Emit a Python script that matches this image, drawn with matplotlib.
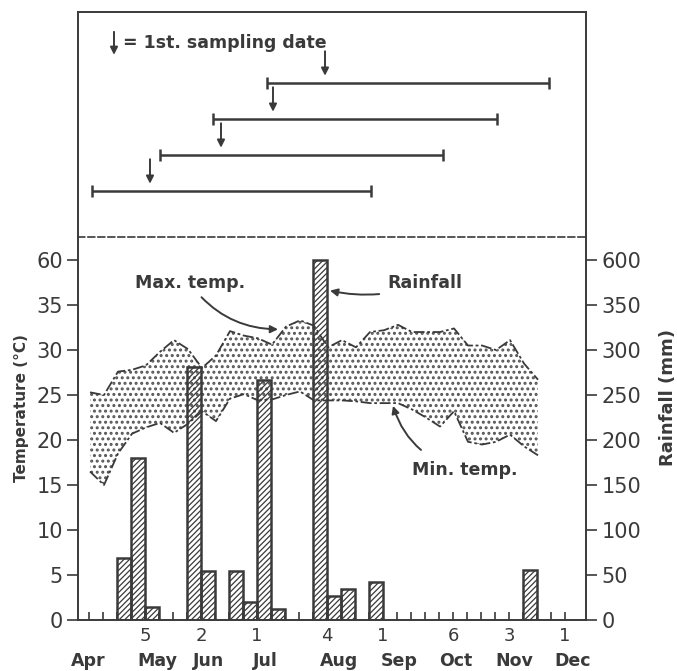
import matplotlib.pyplot as plt
import numpy as np

plt.rcParams['font.family'] = 'DejaVu Sans'
plt.rcParams['hatch.linewidth'] = 0.9
ink = '#3a3a3a'

# x axis = days counted from 31 March (1 April = day 1)
week_x = np.arange(33) * 7 + 7.5
t_max = [25.3, 25.0, 27.6, 27.8, 28.3, 29.8, 31.1, 30.1, 28.0, 29.4, 32.1, 31.6,
         31.3, 30.6, 32.6, 33.3, 32.7, 30.3, 31.1, 30.3, 32.0, 32.2, 32.8, 32.0,
         32.0, 32.0, 32.4, 30.5, 30.5, 30.0, 31.1, 28.5, 26.7]
t_min = [16.5, 15.0, 18.5, 20.7, 21.4, 21.9, 20.8, 21.8, 23.2, 22.1, 24.6, 25.1,
         24.4, 24.5, 25.0, 25.4, 24.4, 24.4, 24.4, 24.3, 24.1, 24.1, 24.1, 23.4,
         22.5, 21.5, 23.2, 19.8, 19.5, 19.8, 20.6, 19.3, 18.3]

# weekly rainfall (week start day, mm)
rain_week = [21, 28, 35, 56, 63, 77, 84, 91, 98, 119, 126, 133, 147, 224]
rain_mm = [69, 180, 14, 281, 55, 54, 20, 267, 12, 600, 27, 34, 42, 56]

tick_days = [35, 63, 91, 126, 154, 189, 217, 245]
tick_nums = ['5', '2', '1', '4', '1', '6', '3', '1']
months = ['Apr', 'May', 'Jun', 'Jul', 'Aug', 'Sep', 'Oct', 'Nov', 'Dec']
month_pos = [6.5, 41, 67, 95, 132, 162, 190.5, 219.5, 249]

temp_ticks = [0, 5, 10, 15, 20, 25, 30, 35, 60]
rain_ticks = [0, 50, 100, 150, 200, 250, 300, 350, 600]

# sampling periods (start, first sampling, end)
samp_start = [8.5, 42.5, 69, 96]
samp_first = [37.5, 73, 99, 125]
samp_end = [148, 184, 211, 237]


def broken(v, cut, top, step):
    # axis is broken above `cut`: the top tick sits one step above it
    v = np.asarray(v, float)
    return np.where(v <= cut, v, cut + (v - cut) / (top - cut) * step)


fig = plt.figure(figsize=(6.77, 6.71), dpi=100)
ax = fig.add_axes([0.1152, 0.076, 0.7504, 0.5708])
top = fig.add_axes([0.1152, 0.6468, 0.7504, 0.3353])

xlim = (1.5, 255.5)

# ---- lower panel
with plt.rc_context({'hatch.linewidth': 1.4}):
    ax.fill_between(week_x, t_min, t_max, facecolor='white', edgecolor='#555555',
                    hatch='...', linewidth=0, zorder=1)
ax.plot(week_x, t_max, color=ink, lw=1.3, ls=(0, (6, 1.5, 1.5, 1.5)), zorder=2)
ax.plot(week_x, t_min, color=ink, lw=1.3, ls=(0, (6, 1.5, 1.5, 1.5)), zorder=2)

rain_h = broken(np.array(rain_mm) / 10, 35, 60, 5)
ax.bar(rain_week, rain_h, width=7, align='edge', facecolor='none',
       edgecolor=ink, hatch='//////', linewidth=1.8, zorder=3)

ax.set_xlim(*xlim)
ax.set_ylim(0, 42.56)
ax.spines['top'].set_visible(False)
for s in ['left', 'right', 'bottom']:
    ax.spines[s].set_linewidth(1.4)
    ax.spines[s].set_color(ink)

ax.set_xticks(np.arange(7, 246, 7))
ax.tick_params(axis='x', direction='in', length=6, width=1.2, color=ink,
               labelbottom=False)
for d, n in zip(tick_days, tick_nums):
    ax.text(d, -1.8, n, ha='center', va='center', fontsize=13, color=ink)
for d, m in zip(month_pos, months):
    ax.text(d, -4.5, m, ha='center', va='center', fontsize=12.5, color=ink,
            fontweight='bold')

ypos = broken(temp_ticks, 35, 60, 5)
ax.set_yticks(ypos)
ax.set_yticklabels([str(t) for t in temp_ticks])
ax.tick_params(axis='y', direction='out', length=8, width=1.2, color=ink,
               labelsize=15, labelcolor=ink, pad=3)
ax2 = ax.twinx()
ax2.set_ylim(ax.get_ylim())
ax2.set_yticks(broken(np.array(rain_ticks) / 10, 35, 60, 5))
ax2.set_yticklabels([str(t) for t in rain_ticks])
ax2.tick_params(axis='y', direction='out', length=8, width=1.2, color=ink,
                labelsize=15, labelcolor=ink, pad=3)
for s in ax2.spines.values():
    s.set_visible(False)

fig.text(22 / 677, 1 - 408 / 671, 'Temperature (°C)', rotation=90,
         ha='center', va='center', fontsize=11, color=ink, fontweight='bold')
fig.text(668 / 677, 1 - 397 / 671, 'Rainfall (mm)', rotation=90,
         ha='center', va='center', fontsize=13, color=ink, fontweight='bold')

arr = dict(arrowstyle='-|>', color=ink, lw=1.4, mutation_scale=11)
ax.annotate('Max. temp.', xy=(101.5, 32.3), xytext=(57.5, 37.4),
            ha='center', va='center', fontsize=12.5, color=ink, fontweight='bold',
            arrowprops=dict(arr, connectionstyle='arc3,rad=0.25',
                            shrinkA=2, shrinkB=0))
ax.annotate('Rainfall', xy=(127.5, 36.6), xytext=(175, 37.4),
            ha='center', va='center', fontsize=12.5, color=ink, fontweight='bold',
            arrowprops=dict(arr, connectionstyle='arc3,rad=-0.15',
                            shrinkA=4, shrinkB=0))
ax.annotate('Min. temp.', xy=(159, 23.8), xytext=(195, 16.7),
            ha='center', va='center', fontsize=12.5, color=ink, fontweight='bold',
            arrowprops=dict(arr, connectionstyle='arc3,rad=-0.3',
                            shrinkA=10, shrinkB=0))

# ---- upper panel: sampling periods
top.set_xlim(*xlim)
top.set_ylim(-0.28, 5.97)
top.set_xticks([])
top.set_yticks([])
for s in ['left', 'right', 'top']:
    top.spines[s].set_linewidth(1.4)
    top.spines[s].set_color(ink)
top.spines['bottom'].set_linestyle((0, (4, 2)))
top.spines['bottom'].set_linewidth(1.2)
top.spines['bottom'].set_color(ink)

for i, (a, f, b) in enumerate(zip(samp_start, samp_first, samp_end)):
    row = i + 1
    top.plot([a, b], [row, row], color=ink, lw=1.8, solid_capstyle='butt')
    top.plot([a, b], [row, row], ls='none', marker='|', ms=9, mew=1.8,
             color=ink)
    top.annotate('', xy=(f, row + 0.2), xytext=(f, row + 0.88),
                 arrowprops=dict(arr, shrinkA=0, shrinkB=0))

top.annotate('', xy=(19.5, 4.78), xytext=(19.5, 5.42),
             arrowprops=dict(arr, shrinkA=0, shrinkB=0))
top.text(24, 5.12, '= 1st. sampling date', ha='left', va='center',
         fontsize=12.5, color=ink, fontweight='bold')

fig.savefig('out.png', dpi=100)
